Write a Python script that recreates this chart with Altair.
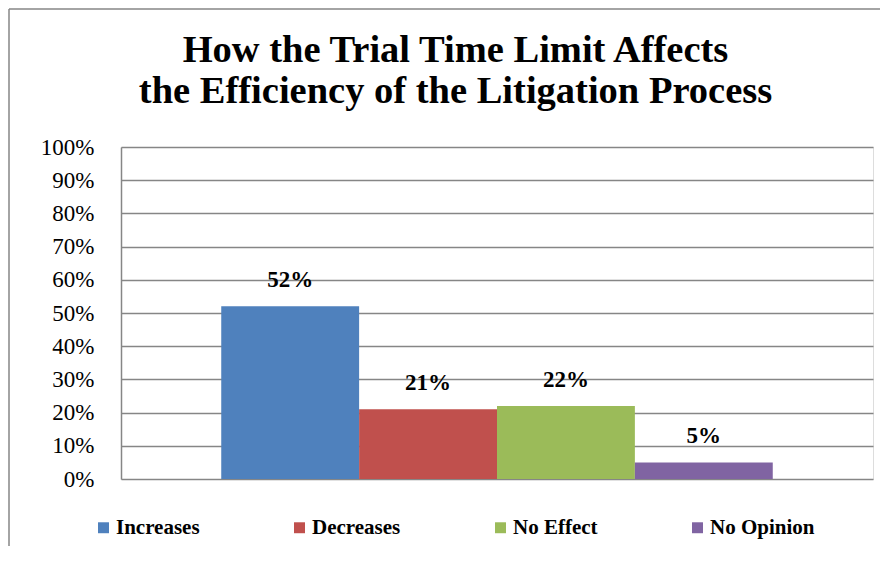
import altair as alt
import pandas as pd

responses = ["Increases", "Decreases", "No Effect", "No Opinion"]
values = [0.52, 0.21, 0.22, 0.05]
labels = ["52%", "21%", "22%", "5%"]
colors = ["#4F81BD", "#C0504D", "#9BBB59", "#8064A2"]
tick_values = [0.0, 0.1, 0.2, 0.3, 0.4, 0.5, 0.6, 0.7, 0.8, 0.9, 1.0]
title_lines = ["How the Trial Time Limit Affects", "the Efficiency of the Litigation Process"]

df = pd.DataFrame({"Response": responses, "Value": values, "Label": labels})

W, H = 752, 332
FONT = "Liberation Serif"
GRID = "#868686"

x_enc = alt.X("Response:N", sort=responses, axis=None,
              scale=alt.Scale(paddingInner=0, paddingOuter=0.727))
y_axis = alt.Axis(format=".0%", values=tick_values, tickCount=11,
                  labelOverlap=False, title=None, ticks=False, labelPadding=27,
                  labelFont=FONT, labelFontSize=23, labelColor="#000000",
                  grid=True, gridColor=GRID, gridWidth=1.5,
                  domain=True, domainColor=GRID, domainWidth=1.5)
y_enc = alt.Y("Value:Q", scale=alt.Scale(domain=[0, 1], nice=False), axis=y_axis)
color_enc = alt.Color("Response:N", sort=responses,
                      scale=alt.Scale(domain=responses, range=colors),
                      legend=alt.Legend(title=None, orient="none", direction="horizontal",
                                        columns=4, legendX=-28, legendY=370,
                                        symbolType="square", symbolSize=120,
                                        symbolStrokeWidth=0, labelOffset=2,
                                        columnPadding=89, labelFont=FONT,
                                        labelFontSize=21, labelFontWeight="bold",
                                        labelColor="#000000"))

bars = alt.Chart().mark_bar().encode(x=x_enc, y=y_enc, color=color_enc)

text = alt.Chart().mark_text(font=FONT, fontSize=23, fontWeight="bold",
                             baseline="alphabetic", dy=-19, color="#000000").encode(
    x=x_enc, y=y_enc, text="Label:N")

one = pd.DataFrame({"k": [0]})
frame_left = alt.Chart(one).mark_rule(color=GRID, strokeWidth=1.5).encode(
    x=alt.value(-112), y=alt.value(-138), y2=alt.value(H + 67))
frame_top = alt.Chart(one).mark_rule(color=GRID, strokeWidth=1.5).encode(
    x=alt.value(-112), x2=alt.value(W + 7), y=alt.value(-138))

title_df = pd.DataFrame({"line": title_lines})
title1 = alt.Chart(title_df.iloc[[0]]).mark_text(
    font=FONT, fontSize=38.5, fontWeight="bold", color="#000000",
    align="center", baseline="alphabetic").encode(
    x=alt.value(334.5), y=alt.value(-85), text="line:N")
title2 = alt.Chart(title_df.iloc[[1]]).mark_text(
    font=FONT, fontSize=38.5, fontWeight="bold", color="#000000",
    align="center", baseline="alphabetic").encode(
    x=alt.value(334.5), y=alt.value(-44), text="line:N")

chart = alt.layer(
    bars, text, frame_left, frame_top, title1, title2
).properties(
    width=W, height=H,
    padding={"left": 113, "top": 139, "right": 7, "bottom": 67},
    autosize=alt.AutoSizeParams(type="none"),
).configure_view(stroke=None).configure(background="white")

chart = chart.properties(data=alt.InlineData(values=df.to_dict(orient="records")))

chart.save("out.html", embed_options={"renderer": "svg", "actions": False})
